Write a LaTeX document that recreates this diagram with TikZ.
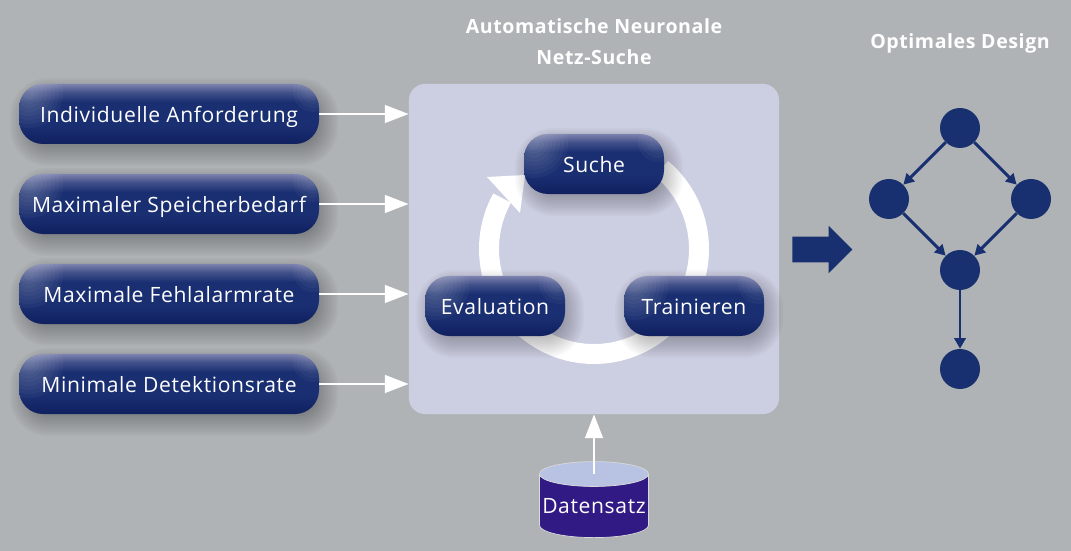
\documentclass[tikz,border=0pt]{standalone}
\usepackage{fontspec}
\setmainfont[LetterSpace=3]{Open Sans}
\usetikzlibrary{calc,arrows.meta,shapes.geometric,shapes.arrows}

\definecolor{bgGrey}{HTML}{B0B3B6}
\definecolor{panelLilac}{HTML}{CCCEE2}
\definecolor{pillTop}{HTML}{7C82AE}
\definecolor{pillMid}{HTML}{1A2F72}
\definecolor{pillLow}{HTML}{10205F}
\definecolor{graphBlue}{HTML}{18306F}
\definecolor{dataBody}{HTML}{321A85}
\definecolor{dataTop}{HTML}{B8C3E3}

\pgfdeclareverticalshading{pillshade}{100bp}{
  color(0bp)=(pillLow); color(25bp)=(pillLow); color(41bp)=(pillMid);
  color(60bp)=(pillMid); color(68bp)=(pillTop!40!pillMid); color(75bp)=(pillTop); color(100bp)=(pillTop)}

\tikzset{
  pill/.style={shading=pillshade, rounded corners=.6cm, minimum height=1.5cm, inner sep=0pt,
    text=white, font=\fontsize{15pt}{15pt}\selectfont, text height=11.4pt, text depth=0pt,
    path picture={
      \foreach \r in {6,10,...,34} {
        \fill[white,opacity=.036] ($(path picture bounding box.north west)+(10,-10)$) circle[radius=\r];
      }
      \foreach \r in {4,8,...,20} {
        \fill[white,opacity=.036] ($(path picture bounding box.north east)+(-6,-8)$) circle[radius=\r];
      }
    }},
  feed/.style={draw=white, line width=2.1pt, -{Triangle[length=17pt,width=12.5pt]}},
  edge/.style={draw=graphBlue, line width=2.1pt, -{Triangle[length=7.5pt,width=8pt]}},
  vertex/.style={circle, fill=graphBlue, minimum size=1cm, inner sep=0pt},
  title/.style={text=white, font=\bfseries\fontsize{13.9pt}{13.9pt}\selectfont, text height=10.2pt, text depth=0pt}
}

% shadow stack + gradient box: name, x, y, width, text
\newcommand{\pillbox}[5]{%
  \foreach \g in {-14,-12,...,14} {
    \fill[black,opacity=.025,rounded corners={(24+\g)*.711pt}]
      (#2+5-#4/2-\g,#3-8-30-\g) rectangle (#2+5+#4/2+\g,#3-8+30+\g);
  }
  \node[pill, minimum width=#4*.025cm] (#1) at (#2,#3) {#5};
}

\begin{document}
\begin{tikzpicture}[x=.025cm,y=.025cm]
    \useasboundingbox (0,0) rectangle (1071,551);
    \fill[bgGrey] (0,0) rectangle (1071,551);

    % titles
    \node[title] (TitleA) at (594,525) {Automatische Neuronale};
    \node[title] (TitleB) at (594,494) {Netz-Suche};
    \node[title] (TitleC) at (960,510) {Optimales Design};

    % search panel
    \node[fill=panelLilac, rounded corners=.4cm, minimum width=9.25cm, minimum height=8.25cm] (Panel) at (594,302) {};

    % ring with its head
    \coordinate (RingC) at (594,302);
    \draw[white, line width=14.2pt] (RingC) ++(151:105) arc[radius=105, start angle=151, end angle=410];
    \fill[white] (487,374) -- (525,376) -- (520,338) -- cycle;

    % inputs
    \pillbox{Anforderung}{169}{437}{300}{Individuelle Anforderung}
    \pillbox{Speicher}{169}{347}{300}{Maximaler Speicherbedarf}
    \pillbox{Fehlalarm}{169}{257}{300}{Maximale Fehlalarmrate}
    \pillbox{Detektion}{169}{167}{300}{Minimale Detektionsrate}

    % loop
    \pillbox{Suche}{594}{387}{140}{Suche}
    \pillbox{Evaluation}{495}{245}{140}{Evaluation}
    \pillbox{Trainieren}{694}{245}{140}{Trainieren}

    \draw[feed] (Anforderung) -- (Anforderung -| Panel.west);
    \draw[feed] (Speicher) -- (Speicher -| Panel.west);
    \draw[feed] (Fehlalarm) -- (Fehlalarm -| Panel.west);
    \draw[feed] (Detektion) -- (Detektion -| Panel.west);

    % data set
    \node[cylinder, shape border rotate=90, aspect=.24, cylinder uses custom fill,
      cylinder body fill=dataBody, cylinder end fill=dataTop, draw=white!85!black, line width=.5pt,
      minimum width=109*.025cm, minimum height=76*.025cm, inner sep=0pt, text=white,
      font=\fontsize{15pt}{15pt}\selectfont] (Datensatz) at (594,45) {Datensatz};
    \coordinate (DataIn) at (594,77);
    \draw[feed] (DataIn) -- (DataIn |- Panel.south);

    % result arrow
    \node[single arrow, fill=graphBlue, inner sep=12.5*.025cm, minimum height=60*.025cm,
      single arrow head extend=11*.025cm, single arrow head indent=0pt, anchor=tail] (Result) at (792,301.5) {};

    % optimal design
    \node[vertex] (Va) at (960,423) {};
    \node[vertex] (Vb) at (889,352) {};
    \node[vertex] (Vc) at (1031,352) {};
    \node[vertex] (Vd) at (960,281) {};
    \node[vertex] (Ve) at (960,182) {};
    \draw[edge] (Va) -- (Vb);
    \draw[edge] (Va) -- (Vc);
    \draw[edge] (Vb) -- (Vd);
    \draw[edge] (Vc) -- (Vd);
    \draw[edge] (Vd) -- (Ve);
\end{tikzpicture}
\end{document}
